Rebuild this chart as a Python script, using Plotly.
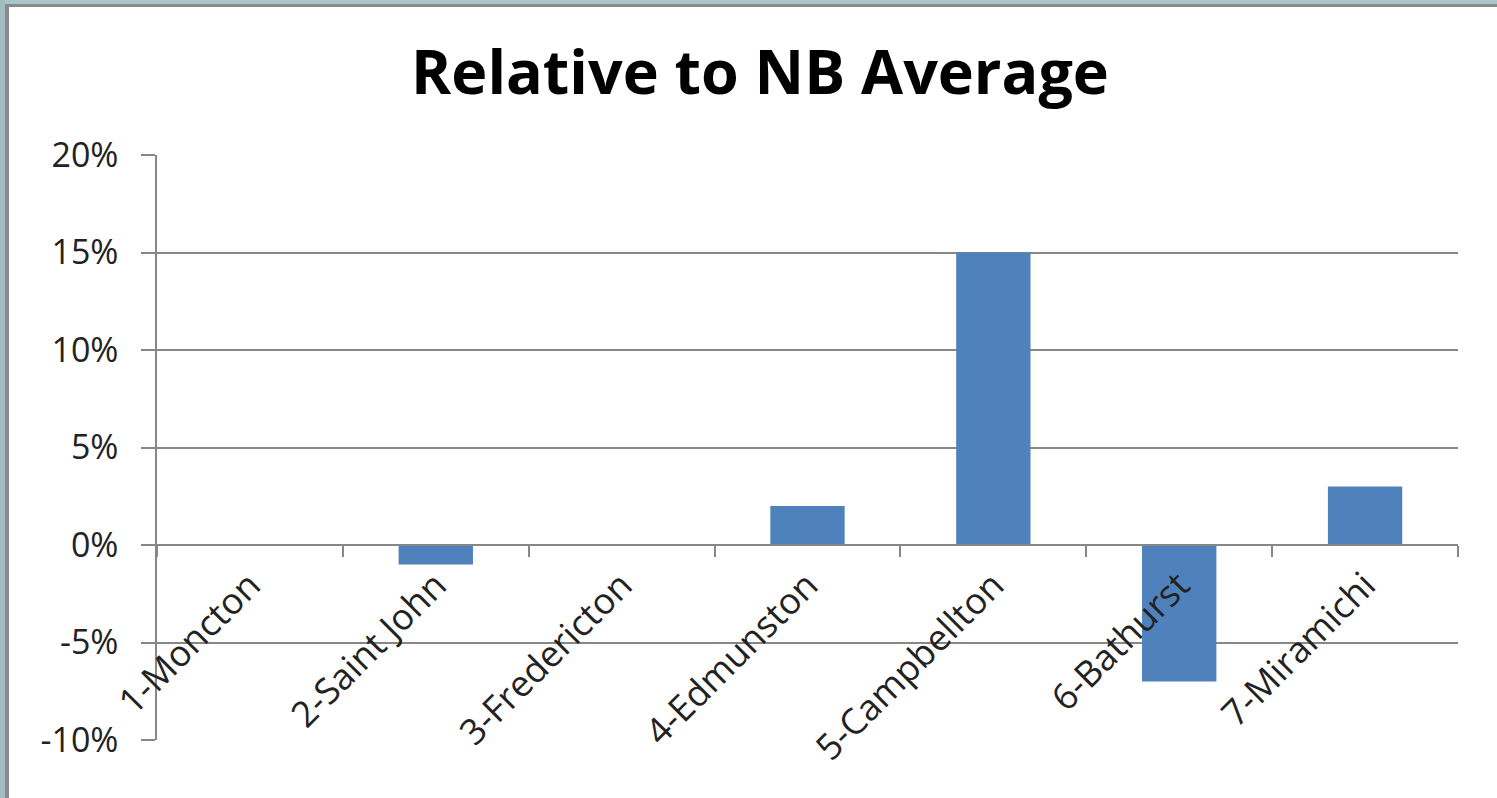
import plotly.graph_objects as go

categories = ["1-Moncton", "2-Saint John", "3-Fredericton", "4-Edmunston",
              "5-Campbellton", "6-Bathurst", "7-Miramichi"]
values = [0.0, -0.01, 0.0, 0.02, 0.15, -0.07, 0.03]
y_tick_vals = [-0.10, -0.05, 0.0, 0.05, 0.10, 0.15, 0.20]
y_tick_labels = ["-10%", "-5%", "0%", "5%", "10%", "15%", "20%"]

W, H = 1497, 798
L, R, T, B = 157, 39, 155, 58
PW, PH = W - L - R, H - T - B


def px_x(px):
    return (px - L) / PW


def px_y(py):
    return (H - B - py) / PH


FONT = "Open Sans"
GRID = "#878787"

fig = go.Figure(go.Bar(
    x=categories, y=values,
    marker=dict(color="#4f81bd", line=dict(width=0)),
))

fig.update_layout(
    width=W, height=H,
    margin=dict(l=L, r=R, t=T, b=B),
    paper_bgcolor="white", plot_bgcolor="white",
    bargap=0.6, showlegend=False,
    title=dict(text="<b>Relative to NB Average</b>",
               font=dict(family=FONT, size=61, color="#000000"),
               x=760 / W, xref="container", xanchor="center",
               y=1 - 73 / H, yref="container", yanchor="middle"),
    font=dict(family=FONT, size=33, color="#222222"),
    xaxis=dict(
        type="category", anchor="free", position=1 / 3,
        showline=True, linecolor=GRID, linewidth=1.5,
        ticks="outside", ticklen=11, tickcolor=GRID, tickwidth=1.5,
        tickson="boundaries", tickangle=-45,
        showgrid=False, ticklabelstandoff=4,
        tickfont=dict(family=FONT, size=36, color="#222222"),
    ),
    yaxis=dict(
        range=[-0.10, 0.20], tickvals=y_tick_vals, ticktext=y_tick_labels,
        showline=True, linecolor=GRID, linewidth=1.5,
        ticks="outside", ticklen=14, tickcolor=GRID, tickwidth=1.5,
        showgrid=True, gridcolor=GRID, gridwidth=1.5,
        zeroline=False, ticklabelstandoff=16,
        tickfont=dict(family=FONT, size=34, color="#222222"),
    ),
    shapes=[
        dict(type="rect", xref="paper", yref="paper",
             x0=px_x(0), x1=px_x(W), y0=px_y(0), y1=px_y(4),
             fillcolor="#aac6c8", line=dict(width=0), layer="above"),
        dict(type="rect", xref="paper", yref="paper",
             x0=px_x(0), x1=px_x(W), y0=px_y(4), y1=px_y(7),
             fillcolor="#8a8a8a", line=dict(width=0), layer="above"),
        dict(type="rect", xref="paper", yref="paper",
             x0=px_x(0), x1=px_x(5), y0=px_y(0), y1=px_y(H),
             fillcolor="#a3bcc0", line=dict(width=0), layer="above"),
        dict(type="rect", xref="paper", yref="paper",
             x0=px_x(5), x1=px_x(9), y0=px_y(4), y1=px_y(H),
             fillcolor="#8a8a8a", line=dict(width=0), layer="above"),
    ],
)

fig.write_html("out.html")
